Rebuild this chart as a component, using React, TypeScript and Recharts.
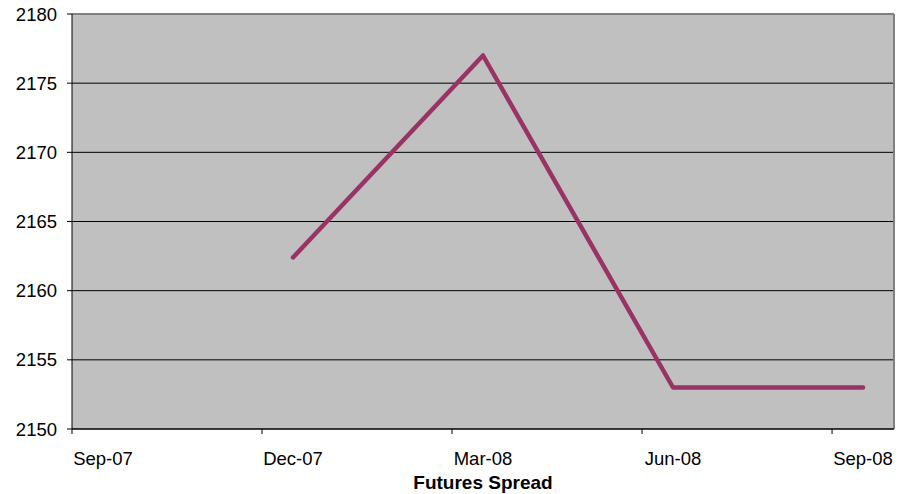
import { LineChart, Line, XAxis, YAxis, CartesianGrid, ReferenceLine } from 'recharts'

const months = ['Sep-07', 'Dec-07', 'Mar-08', 'Jun-08', 'Sep-08']
const spread = [null, 2162.4, 2177, 2153, 2153]
const yTicks = [2150, 2155, 2160, 2165, 2170, 2175, 2180]

// date axis: labels sit mid-period, tick marks sit at period start
const OFF = 0.163
const xMin = -OFF
const xMax = months.length - 1 + OFF
const xTicks: number[] = []
months.forEach((_, i) => {
  xTicks.push(i - OFF)
  xTicks.push(i)
})

const data = months.map((m, i) => ({ i, month: m, value: spread[i] }))

const FONT = '"Liberation Sans", Arial, sans-serif'

const XTick = (props: any) => {
  const { x, y, payload } = props
  const v = payload.value as number
  const idx = Math.round(v)
  if (Math.abs(v - idx) < 1e-6) {
    return (
      <text x={x} y={y + 36} textAnchor="middle" fill="#000" fontSize={18.5} fontFamily={FONT}>
        {months[idx]}
      </text>
    )
  }
  return <line x1={x} x2={x} y1={y} y2={y + 5} stroke="#000" />
}

export default function App() {
  return (
    <div style={{ position: 'absolute', left: 0, top: 0, background: '#fff' }}>
      <LineChart width={905} height={494} data={data} margin={{ top: 14, right: 11, bottom: 0, left: 0 }}>
        <CartesianGrid vertical={false} stroke="#000" fill="#C0C0C0" fillOpacity={1} />
        <XAxis
          dataKey="i"
          type="number"
          domain={[xMin, xMax]}
          allowDataOverflow
          ticks={xTicks}
          interval={0}
          tickSize={0}
          tickMargin={0}
          tickLine={false}
          tick={<XTick />}
          height={65}
          stroke="#000"
          label={{
            content: ({ viewBox }: any) => (
              <text
                x={viewBox.x + viewBox.width / 2}
                y={viewBox.y + 60}
                textAnchor="middle"
                fontWeight="bold"
                fontSize={19}
                fontFamily={FONT}
                fill="#000"
              >
                Futures Spread
              </text>
            ),
          }}
        />
        <YAxis
          domain={[2150, 2180]}
          ticks={yTicks}
          interval={0}
          width={72}
          tickSize={5}
          tickMargin={10}
          stroke="#000"
          tick={{ fill: '#000', fontSize: 18.5, fontFamily: FONT }}
        />
        <ReferenceLine y={2180} stroke="#808080" strokeWidth={2} />
        <ReferenceLine x={xMax} stroke="#808080" strokeWidth={2} />
        <Line
          type="linear"
          dataKey="value"
          stroke="#993366"
          strokeWidth={4.5}
          strokeLinecap="round"
          strokeLinejoin="round"
          dot={false}
          activeDot={false}
          isAnimationActive={false}
        />
      </LineChart>
    </div>
  )
}
